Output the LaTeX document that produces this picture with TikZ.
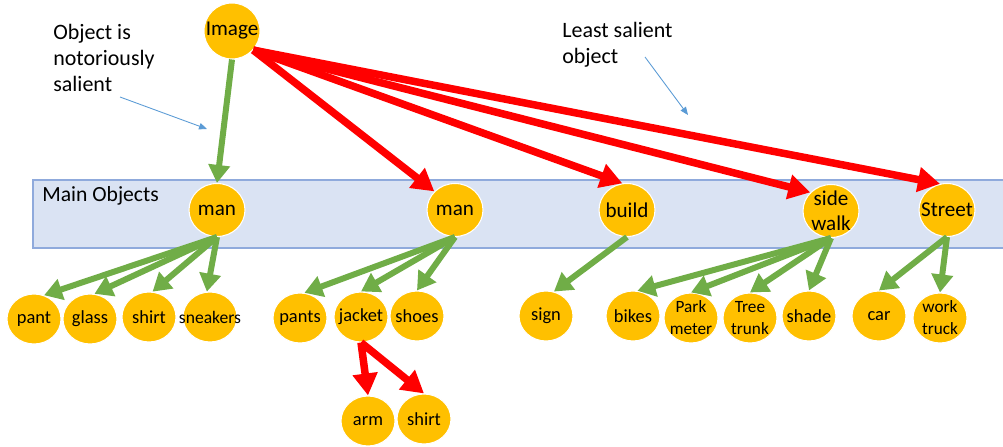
\documentclass[tikz,border=0pt]{standalone}
\usepackage{fontspec}
\setmainfont{Carlito}
\usetikzlibrary{arrows.meta,shapes.geometric}
\definecolor{objfill}{HTML}{FFC000}
\definecolor{goodarr}{HTML}{70AD47}
\definecolor{badarr}{HTML}{FF0000}
\definecolor{bandfill}{HTML}{DAE3F3}
\definecolor{bandline}{HTML}{8FAADC}
\definecolor{notecol}{HTML}{5B9BD5}

\begin{document}
\begin{tikzpicture}[x=0.2mm,y=-0.2mm,
	obj/.style={ellipse,fill=objfill,draw=white,line width=0.6pt,minimum width=11.2mm,minimum height=10.6mm,inner xsep=-4mm,inner ysep=-3mm,align=center,font=\fontsize{12}{14}\selectfont},
	part/.style={obj,minimum width=10.8mm,minimum height=10mm,font=\fontsize{10.5}{12}\selectfont},
	small/.style={font=\fontsize{9.8}{12.5}\selectfont},
	greenarr/.style={-{Triangle[length=3.6mm,width=4.2mm]},goodarr,line width=1.2mm},
	redarr/.style={-{Triangle[length=4.4mm,width=4.8mm]},badarr,line width=1.5mm},
	note/.style={align=left,anchor=north west,inner sep=0pt,font=\fontsize{12.5}{14.8}\selectfont},
	notearr/.style={-{Triangle[length=1.6mm,width=1.3mm]},notecol,line width=0.5pt}]
	%%%%% START %%%%%
	
	\useasboundingbox (0,0) rectangle (1003,447);
	
	% band of main objects
	\draw[fill=bandfill,draw=bandline,line width=0.8pt] (33,180) rectangle (1012,248);
	\node[anchor=west,inner sep=0pt,font=\fontsize{12.3}{14}\selectfont] (mainlbl) at (42,196) {Main Objects};
	
	% notes
	\node[note] (noteA) at (53,24) {Object is\\notoriously\\salient};
	\node[note] (noteB) at (562,22) {Least salient\\object};
	\coordinate (noteAend) at (207,129);
	\coordinate (noteBend) at (688,115);
	\draw[notearr] (120,97) -- (noteAend);
	\draw[notearr] (645,57) -- (noteBend);
	
	% top
	\node[obj,minimum width=11.2mm,minimum height=11.2mm] (img) at (232,31) {Image};
	
	% main row
	\node[obj] (manA) at (217,210) {man};
	\node[obj] (manB) at (455,210) {man};
	\node[obj] (build) at (627,210) {build};
	\node[obj] (walk) at (831,211) {side\\walk};
	\node[obj] (street) at (947,210) {Street};
	
	% parts
	\node[part] (pant) at (34,319) {pant};
	\node[part] (glass) at (90,319) {glass};
	\node[part] (shirtA) at (149,317) {shirt};
	\node[part,font=\fontsize{10}{11}\selectfont] (sneakers) at (210,317) {sneakers};
	\node[part] (pants) at (300,318) {pants};
	\node[part] (jacket) at (361,317) {jacket};
	\node[part] (shoes) at (417,316) {shoes};
	\node[part] (sign) at (546,316) {sign};
	\node[part] (bikes) at (633,316) {bikes};
	\node[part,small] (meter) at (691,318) {Park\\meter};
	\node[part,small] (tree) at (750,318) {Tree\\trunk};
	\node[part] (shade) at (809,316) {shade};
	\node[part] (car) at (879,316) {car};
	\node[part,small] (truck) at (940,318) {work\\truck};
	\node[part] (arm) at (368,421) {arm};
	\node[part] (shirtB) at (424,419) {shirt};
	
	% salient
	\draw[greenarr] (img.south) -- (manA.north);
	
	% less salient
	\draw[redarr] (img.-42) -- (manB.138);
	\draw[redarr] (img.-42) -- (build.100);
	\draw[redarr] (img.-42) -- (walk.138);
	\draw[redarr] (img.-42) -- (street.105);
	
	% parts of main objects
	\draw[greenarr] (manA.south) -- (pant.67);
	\draw[greenarr] (manA.south) -- (glass.80);
	\draw[greenarr] (manA.south) -- (shirtA.82);
	\draw[greenarr] (manA.south) -- (sneakers.97);
	\draw[greenarr] (manB.south) -- (pants.80);
	\draw[greenarr] (manB.south) -- (jacket.north);
	\draw[greenarr] (manB.south) -- (shoes.north);
	\draw[greenarr] (build.south) -- (sign.72);
	\draw[greenarr] (walk.south) -- (bikes.80);
	\draw[greenarr] (walk.south) -- (meter.north);
	\draw[greenarr] (walk.south) -- (tree.north);
	\draw[greenarr] (walk.south) -- (shade.north);
	\draw[greenarr] (street.south) -- (car.north);
	\draw[greenarr] (street.south) -- (truck.north);
	\draw[redarr] (jacket.south) -- (arm.north);
	\draw[redarr] (jacket.south) -- (shirtB.north);
	
	%%%%% END %%%%%
\end{tikzpicture}
\end{document}
